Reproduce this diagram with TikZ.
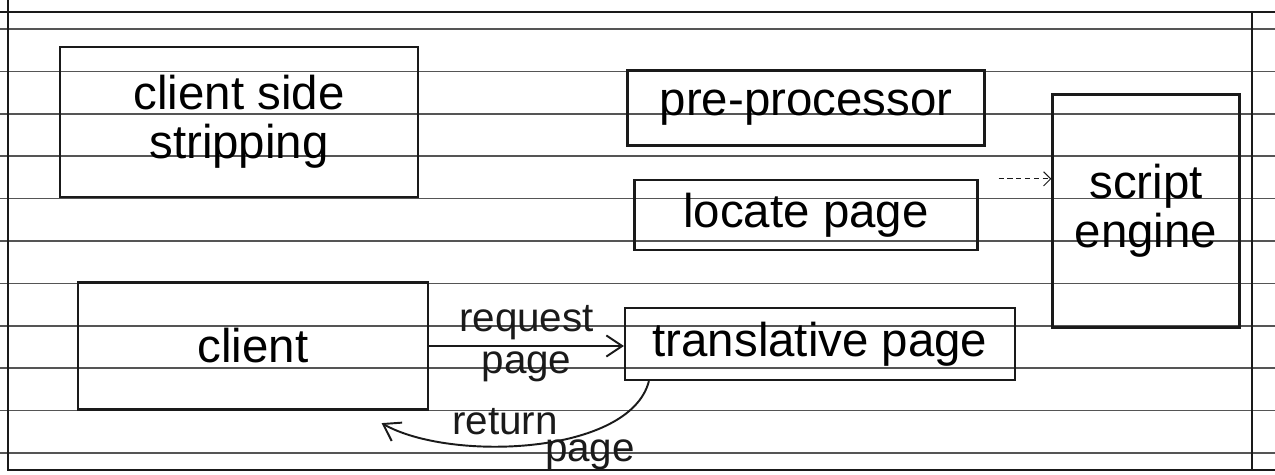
\documentclass[tikz,border=0pt]{standalone}
\usepackage{fontspec}
\setmainfont{Liberation Sans}
\usetikzlibrary{arrows.meta, positioning}
\definecolor{inkblack}{HTML}{1A1A1A}
\definecolor{rulegray}{HTML}{555555}

\begin{document}
\begin{tikzpicture}[
  x=0.02cm, y=-0.02cm,
  box/.style={rectangle, draw=inkblack, line width=1.3pt, font=\fontsize{27}{28}\selectfont, align=center, inner sep=2pt},
  ruled/.style={rulegray, line width=0.9pt},
  flow/.style={inkblack, line width=1.1pt, -{Straight Barb[length=9pt, width=12pt]}},
  lbl/.style={font=\fontsize{23}{24}\selectfont, inkblack, inner sep=1pt},
]
  \useasboundingbox (0,0) rectangle (1275,475);

  % ruled paper
  \foreach \i in {0,...,10}
    \draw[ruled] (0, {29+42.4*\i}) -- (1275, {29+42.4*\i});
  \draw[inkblack, line width=1.2pt] (0,12) -- (1275,12);
  \draw[inkblack, line width=1.2pt] (8,0) -- (8,470) -- (1275,470);
  \draw[inkblack, line width=1.2pt] (1252,12) -- (1252,470);

  \node[box, minimum width=7.16cm, minimum height=3cm] (strip) at (239,122) {client side\\stripping};
  \node[box, minimum width=7.14cm, minimum height=1.5cm] (prep) at (806,108) {pre-processor};
  \node[box, minimum width=6.86cm, minimum height=1.4cm] (loc) at (806,215) {locate page};
  \node[box, minimum width=3.74cm, minimum height=4.66cm] (engine) at (1146,211) {script\\engine};
  \node[box, minimum width=7cm, minimum height=2.54cm] (client) at (253,346) {client};
  \node[box, minimum width=7.8cm, minimum height=1.44cm] (trans) at (820,344) {translative page};

  % request / return
  \draw[flow] (client.east) -- (client.east -| trans.west)
    node[lbl, midway, above=2pt] (req) {request}
    node[lbl, midway, below=2pt] (reqpage) {page};
  \coordinate (retend) at ([xshift=-0.95cm, yshift=-0.25cm]client.south east);
  \draw[flow] ([xshift=0.5cm]trans.south west) .. controls (630,455) and (450,462) .. (retend);
  \node[lbl] (ret) at (505,422) {return};
  \node[lbl] (retpage) at (590,455) {page};

  \draw[inkblack, densely dashed, line width=0.6pt, -{Straight Barb[length=4pt]}]
    ([xshift=0.4cm]loc.north east) -- (engine.west |- loc.north east);
\end{tikzpicture}
\end{document}
